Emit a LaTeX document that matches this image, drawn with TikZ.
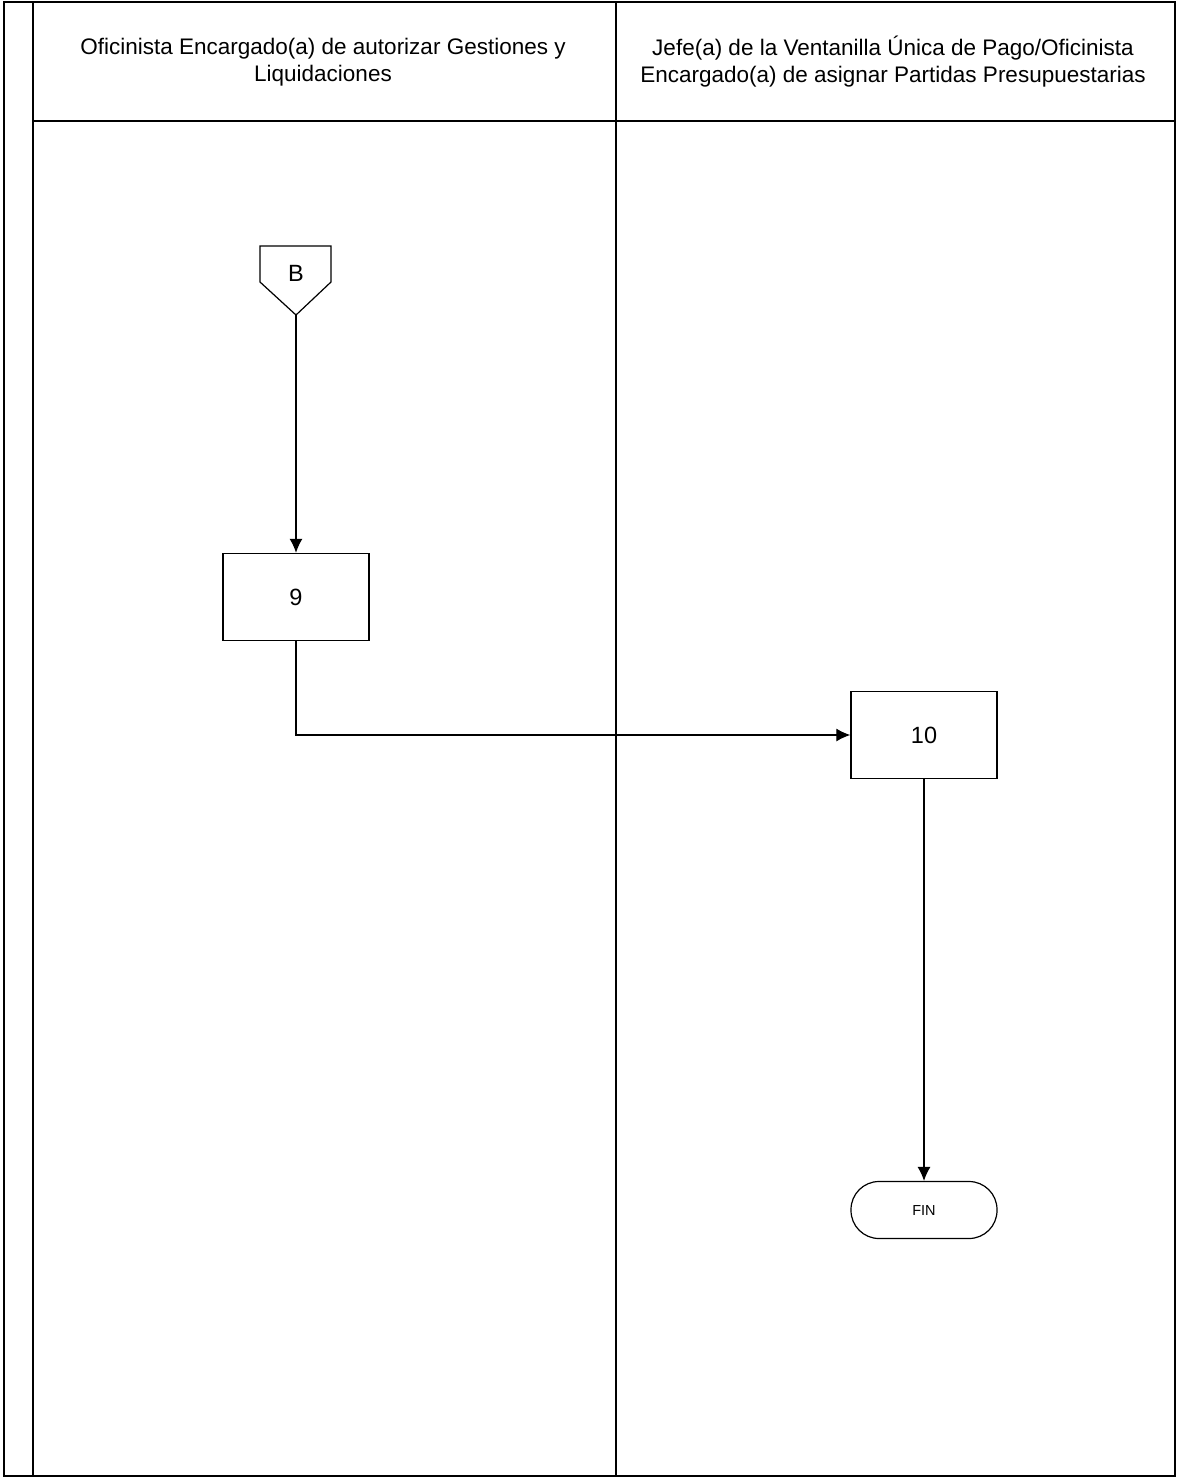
\documentclass[tikz,border=0pt]{standalone}
\usepackage{fontspec}
\setmainfont{Liberation Sans}
\usetikzlibrary{arrows.meta, positioning}

\begin{document}
\begin{tikzpicture}[x=1pt, y=-1pt,
    frame/.style={line width=1.4pt},
    lane/.style={align=center, font=\fontsize{22.5}{27}\selectfont},
    process/.style={rectangle, draw, line width=1.4pt, minimum width=146pt, minimum height=87pt, font=\fontsize{23.5}{26}\selectfont},
    terminal/.style={rectangle, rounded corners=28pt, draw, line width=1.2pt, minimum width=146pt, minimum height=57pt, font=\fontsize{14.5}{17}\selectfont},
    flow/.style={line width=1.2pt, -{Latex[length=14pt, width=13pt]}}
]
\useasboundingbox (0,0) rectangle (1177,1480);
% swimlane frame
\draw[frame] (4,2) rectangle (1175,1476);
\draw[frame] (33,2) -- (33,1476);
\draw[frame] (616,2) -- (616,1476);
\draw[frame] (33,121) -- (1175,121);
\node[lane] (lane1) at (323,62) {Oficinista Encargado(a) de autorizar Gestiones y\\Liquidaciones};
\node[lane] (lane2) at (893,62) {Jefe(a) de la Ventanilla Única de Pago/Oficinista\\Encargado(a) de asignar Partidas Presupuestarias};
% off-page connector
\draw[line width=1.2pt] (260,246) -- (331,246) -- (331,282) -- (296,315) -- (260,282) -- cycle;
\coordinate (Btip) at (296,315);
\node[font=\fontsize{23.5}{26}\selectfont] (B) at (296,273) {B};
% steps
\node[process] (step9) at (296,597) {9};
\node[process] (step10) at (924,735) {10};
\node[terminal] (fin) at (924,1210) {FIN};
\draw[flow] (Btip) -- (step9.north);
\draw[flow] (step9.south) |- (step10.west);
\draw[flow] (step10.south) -- (fin.north);
\end{tikzpicture}
\end{document}
